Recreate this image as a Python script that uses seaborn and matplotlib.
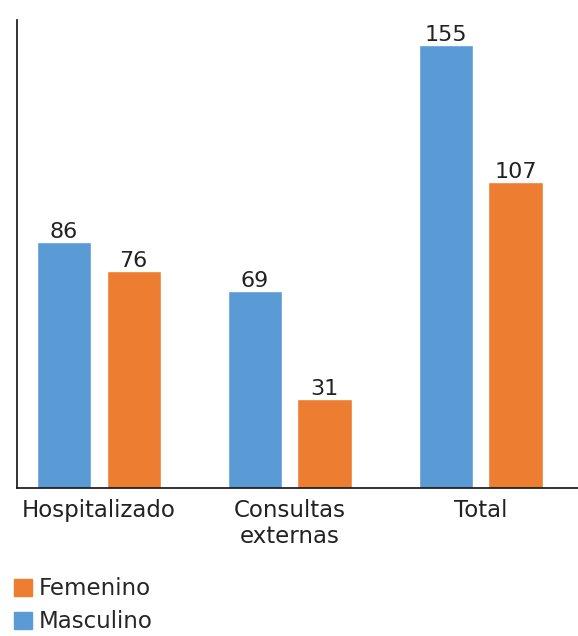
import pandas as pd
import matplotlib
matplotlib.use("Agg")
import matplotlib.pyplot as plt
import seaborn as sns
from matplotlib.patches import Patch

# Data
categories = ["Hospitalizado", "Consultas\nexternas", "Total"]
masculino = [86, 69, 155]
femenino = [76, 31, 107]
sexes = ["Masculino", "Femenino"]
colors = {"Masculino": "#5B9BD5", "Femenino": "#ED7D31"}

df = pd.DataFrame({
    "Categoria": categories * 2,
    "Sexo": ["Masculino"] * 3 + ["Femenino"] * 3,
    "Valor": masculino + femenino,
})

sns.set_style("white")
plt.rcParams["font.family"] = ["DejaVu Sans"]

fig = plt.figure(figsize=(5.78, 6.36), dpi=100)
ax = fig.add_axes([0.029, 0.233, 0.971, 0.736])

sns.barplot(data=df, x="Categoria", y="Valor", hue="Sexo", hue_order=sexes,
            order=categories, palette=colors, width=0.73, gap=0.22,
            saturation=1, ax=ax, legend=False)

# value labels
for container in ax.containers:
    ax.bar_label(container, fontsize=16, padding=0, color="#222222")

ax.set_xlim(-0.43, 2.51)
ax.set_ylim(0, 164)
ax.set_xlabel("")
ax.set_ylabel("")
ax.set_yticks([])
ax.tick_params(axis="x", length=0, labelsize=16.5, pad=8, colors="#222222")
for lbl in ax.get_xticklabels():
    lbl.set_linespacing(1.15)
for s in ["top", "right"]:
    ax.spines[s].set_visible(False)
ax.spines["left"].set_color("#111111")
ax.spines["bottom"].set_color("#111111")
ax.spines["left"].set_linewidth(1.2)
ax.spines["bottom"].set_linewidth(1.2)

handles = [Patch(color=colors["Femenino"], label="Femenino"),
           Patch(color=colors["Masculino"], label="Masculino")]
fig.legend(handles=handles, loc="lower left", bbox_to_anchor=(0.025, 0.004),
           frameon=False, fontsize=16.5, handlelength=0.75, handleheight=0.75,
           handletextpad=0.3, labelspacing=0.45, borderpad=0, borderaxespad=0)

fig.savefig("out.png", dpi=100)
